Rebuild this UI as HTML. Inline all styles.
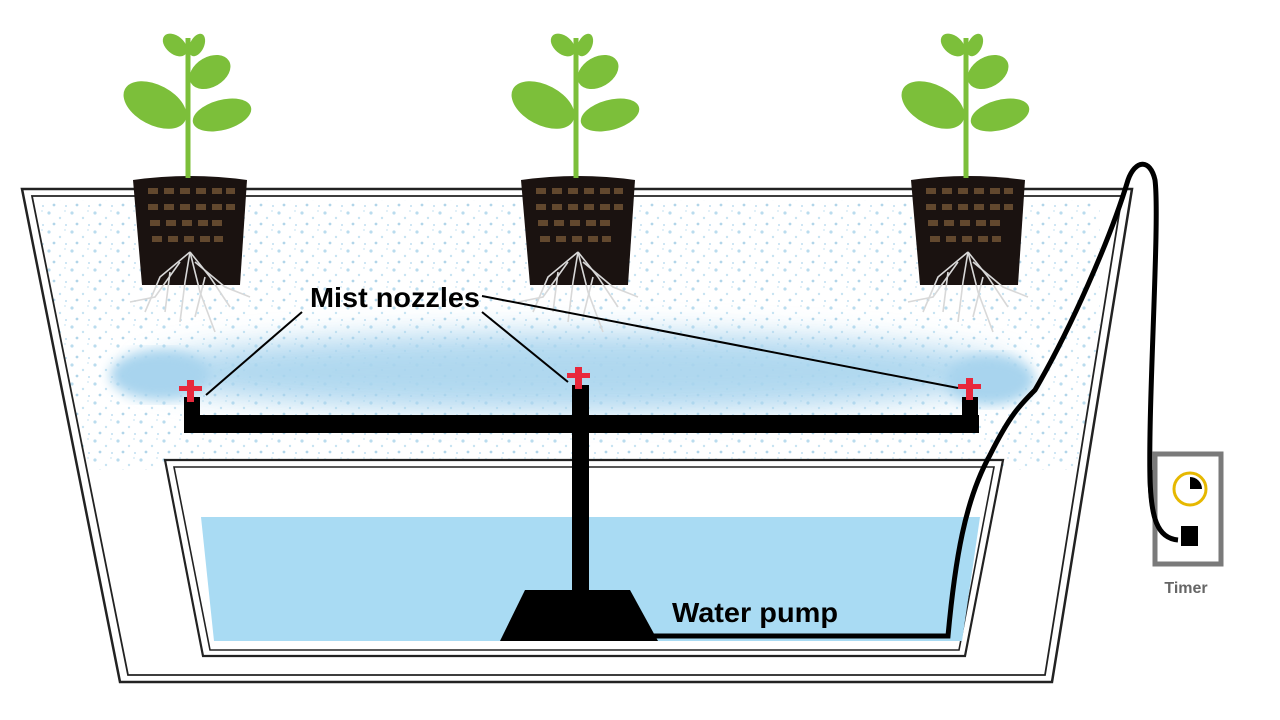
<!DOCTYPE html>
<html><head><meta charset="utf-8"><style>
html,body{margin:0;padding:0;background:#fff;}
svg{display:block;}
</style></head><body>
<svg width="1280" height="720" viewBox="0 0 1280 720" xmlns="http://www.w3.org/2000/svg">
<defs>
<filter id="blur" x="-20%" y="-50%" width="140%" height="200%"><feGaussianBlur stdDeviation="14"/></filter>
<filter id="blur2"><feGaussianBlur stdDeviation="6"/></filter>
<clipPath id="tankclip"><path d="M32,196 L1122,196 L1045,675 L128,675Z"/></clipPath>
<pattern id="dots" width="23" height="19" patternUnits="userSpaceOnUse">
<circle cx="3" cy="4" r="1.6" fill="#a9d3ea"/><circle cx="14" cy="9" r="1.2" fill="#b9dcef"/><circle cx="8" cy="15" r="1.4" fill="#9fcbe4"/><circle cx="19" cy="2" r="0.9" fill="#c0e0f0"/><circle cx="20" cy="16" r="1" fill="#b0d6ec"/>
</pattern>
<g id="plant">
<path d="M0,0 L0,-140" stroke="#7cbf3a" stroke-width="5" fill="none"/>
<ellipse cx="-33" cy="-73" rx="34" ry="20" transform="rotate(28 -33 -73)" fill="#7cbf3a"/>
<ellipse cx="34" cy="-63" rx="30" ry="15" transform="rotate(-15 34 -63)" fill="#7cbf3a"/>
<ellipse cx="22" cy="-106" rx="22" ry="15" transform="rotate(-30 22 -106)" fill="#7cbf3a"/>
<ellipse cx="-13" cy="-133" rx="14" ry="9" transform="rotate(40 -13 -133)" fill="#7cbf3a"/>
<ellipse cx="9" cy="-133" rx="7" ry="12" transform="rotate(25 9 -133)" fill="#7cbf3a"/>
</g>
<g id="pot">
<path d="M-57,-2 Q0,-10 57,-2 L50,103 L-48,103Z" fill="#1a1210"/>
<g fill="#7a5a38" opacity="0.75">
<rect x="-42" y="6" width="10" height="6"/><rect x="-26" y="6" width="10" height="6"/><rect x="-10" y="6" width="10" height="6"/><rect x="6" y="6" width="10" height="6"/><rect x="22" y="6" width="10" height="6"/><rect x="36" y="6" width="9" height="6"/>
<rect x="-42" y="22" width="10" height="6"/><rect x="-26" y="22" width="10" height="6"/><rect x="-10" y="22" width="10" height="6"/><rect x="6" y="22" width="10" height="6"/><rect x="22" y="22" width="10" height="6"/><rect x="36" y="22" width="9" height="6"/>
<rect x="-40" y="38" width="10" height="6"/><rect x="-24" y="38" width="10" height="6"/><rect x="-8" y="38" width="10" height="6"/><rect x="8" y="38" width="10" height="6"/><rect x="22" y="38" width="10" height="6"/>
<rect x="-38" y="54" width="10" height="6"/><rect x="-22" y="54" width="10" height="6"/><rect x="-6" y="54" width="10" height="6"/><rect x="10" y="54" width="10" height="6"/><rect x="24" y="54" width="9" height="6"/>
</g>
<g stroke="#d8d8d8" stroke-width="1.6" fill="none">
<path d="M0,70 L-30,95 L-45,130"/><path d="M0,70 L20,95 L40,125"/><path d="M0,70 L-5,100 L-10,140"/><path d="M0,70 L10,110 L25,150"/><path d="M-10,80 L-35,115 L-60,120"/><path d="M5,80 L35,105 L60,115"/><path d="M-20,90 L-25,130"/><path d="M15,95 L5,135"/>
</g>
</g>
</defs>

<!-- outer tank -->
<path d="M22,189 L1132,189 L1052,682 L120,682Z" fill="#fff" stroke="#222" stroke-width="2.5"/>

<!-- mist -->
<g clip-path="url(#tankclip)">
<rect x="40" y="200" width="1060" height="270" fill="url(#dots)" opacity="0.8"/>
<ellipse cx="580" cy="372" rx="440" ry="40" fill="#a8d4ee" filter="url(#blur)" opacity="0.9"/>
<ellipse cx="160" cy="375" rx="50" ry="25" fill="#a8d4ee" filter="url(#blur2)"/>
<ellipse cx="990" cy="380" rx="45" ry="25" fill="#a8d4ee" filter="url(#blur2)"/>
</g>
<path d="M32,196 L1122,196 L1045,675 L128,675Z" fill="none" stroke="#222" stroke-width="1.8"/>

<!-- reservoir -->
<path d="M165,460 L1003,460 L965,656 L203,656Z" fill="#fff" stroke="#222" stroke-width="2.2"/>
<path d="M174,467 L994,467 L959,650 L210,650Z" fill="none" stroke="#222" stroke-width="1.6"/>
<path d="M201,517 L980,517 L962,641 L214,641Z" fill="#a9dbf3"/>

<!-- pots & plants -->
<g transform="translate(190,182)"><use href="#pot"/></g>
<g transform="translate(578,182)"><use href="#pot"/></g>
<g transform="translate(968,182)"><use href="#pot"/></g>
<g transform="translate(188,178)"><use href="#plant"/></g>
<g transform="translate(576,178)"><use href="#plant"/></g>
<g transform="translate(966,178)"><use href="#plant"/></g>

<!-- pipes -->
<rect x="184" y="415" width="795" height="18" fill="#000"/>
<rect x="184" y="397" width="16" height="30" fill="#000"/>
<rect x="962" y="397" width="16" height="30" fill="#000"/>
<rect x="572" y="385" width="17" height="210" fill="#000"/>
<path d="M525,590 L630,590 L658,641 L500,641Z" fill="#000"/>

<!-- nozzles -->
<g fill="#e8283c">
<rect x="187" y="380" width="7" height="22"/><rect x="179" y="386" width="23" height="5"/>
<rect x="575" y="367" width="7" height="22"/><rect x="567" y="373" width="23" height="5"/>
<rect x="966" y="378" width="7" height="22"/><rect x="958" y="384" width="23" height="5"/>
</g>

<!-- hose -->
<path d="M630,636 L948,636 C955,560 965,500 990,455 C1010,415 1020,405 1035,390 C1070,330 1110,240 1128,180 C1135,160 1150,158 1155,180 C1160,220 1148,400 1150,480 C1152,520 1158,538 1178,540" fill="none" stroke="#000" stroke-width="5"/>

<!-- timer -->
<rect x="1155" y="454" width="66" height="110" fill="#fff" stroke="#7a7a7a" stroke-width="5"/>
<circle cx="1190" cy="489" r="16" fill="#fff" stroke="#e6b800" stroke-width="3"/>
<path d="M1190,477 A12,12 0 0,1 1202,489 L1190,489Z" fill="#000"/>
<path d="M1150,470 C1150,520 1158,538 1178,540" fill="none" stroke="#000" stroke-width="5"/>
<rect x="1181" y="526" width="17" height="20" fill="#000"/>
<text x="1186" y="593" font-family="Liberation Sans, sans-serif" font-weight="bold" font-size="16" fill="#666" text-anchor="middle">Timer</text>

<!-- labels -->
<g stroke="#000" stroke-width="2">
<line x1="302" y1="312" x2="206" y2="395"/>
<line x1="482" y1="312" x2="568" y2="382"/>
<line x1="482" y1="296" x2="958" y2="388"/>
</g>
<text x="310" y="307" font-family="Liberation Sans Narrow, Liberation Sans, sans-serif" font-weight="bold" font-size="28" fill="#000" textLength="170" lengthAdjust="spacingAndGlyphs">Mist nozzles</text>
<text x="672" y="622" font-family="Liberation Sans Narrow, Liberation Sans, sans-serif" font-weight="bold" font-size="28" fill="#000" textLength="166" lengthAdjust="spacingAndGlyphs">Water pump</text>
</svg>
</body></html>
